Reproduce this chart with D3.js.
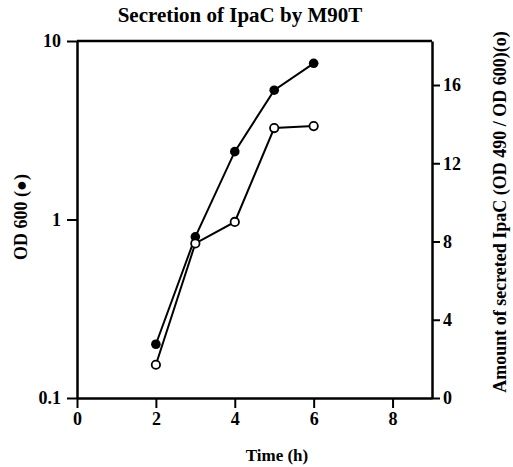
<!DOCTYPE html>
<html>
<head>
<meta charset="utf-8">
<script src="https://cdn.jsdelivr.net/npm/d3@7"></script>
<style>
  body { margin: 0; background: #fff; }
  text { font-family: "Liberation Serif", "Times New Roman", serif; font-weight: bold; }
</style>
</head>
<body>
<div id="chart"></div>
<script>
// data
var hours = [2, 3, 4, 5, 6];
var od600 = [0.2, 0.8, 2.4, 5.3, 7.5];          // filled circles, left log axis
var secreted = [1.7, 7.9, 9.0, 13.8, 13.9];     // open circles, right linear axis
var xTicks = [0, 2, 4, 6, 8];
var leftTicks = [0.1, 1, 10];
var rightTicks = [0, 4, 8, 12, 16];

var svgWidth = 513, svgHeight = 467;
var margin = {top: 41, right: 81, bottom: 69, left: 77},
  width = svgWidth - margin.left - margin.right,
  height = svgHeight - margin.top - margin.bottom;

var svg = d3.select("#chart")
  .append("svg")
    .attr("width", svgWidth)
    .attr("height", svgHeight)
  .append("g")
    .attr("transform", `translate(${margin.left},${margin.top})`);

var x = d3.scaleLinear().domain([0, 9]).range([0, width]);
var yL = d3.scaleLog().domain([0.1, 10]).range([height, 0]);
var yR = d3.scaleLinear().domain([0, 18.25]).range([height, 0]);

// axes
var gx = svg.append("g")
  .attr("transform", `translate(0, ${height})`)
  .call(d3.axisBottom(x).tickValues(xTicks).tickSize(10).tickPadding(4).tickSizeOuter(0));
var gl = svg.append("g")
  .call(d3.axisLeft(yL).tickValues(leftTicks).tickFormat(d3.format("")).tickSize(10).tickPadding(6).tickSizeOuter(0));
var gr = svg.append("g")
  .attr("transform", `translate(${width}, 0)`)
  .call(d3.axisRight(yR).tickValues(rightTicks).tickSize(8).tickPadding(3).tickSizeOuter(0));

[gx, gl, gr].forEach(g => {
  g.select(".domain").attr("stroke-width", 2.5);
  g.selectAll(".tick line").attr("stroke-width", 2);
  g.selectAll(".tick text").style("font-size", "18px").attr("fill", "#000");
});

// top border
svg.append("line")
  .attr("x1", x(0)).attr("x2", x(9))
  .attr("y1", 0).attr("y2", 0)
  .attr("stroke", "#000").attr("stroke-width", 2.5);

var odData = hours.map((h, i) => ({t: h, v: od600[i]}));
var secData = hours.map((h, i) => ({t: h, v: secreted[i]}));

svg.append("path")
  .datum(odData)
  .attr("fill", "none").attr("stroke", "#000").attr("stroke-width", 2)
  .attr("d", d3.line().x(d => x(d.t)).y(d => yL(d.v)));
svg.append("path")
  .datum(secData)
  .attr("fill", "none").attr("stroke", "#000").attr("stroke-width", 2)
  .attr("d", d3.line().x(d => x(d.t)).y(d => yR(d.v)));

svg.selectAll(".od").data(odData).enter().append("circle")
  .attr("cx", d => x(d.t)).attr("cy", d => yL(d.v)).attr("r", 4.8)
  .attr("fill", "#000");
svg.selectAll(".sec").data(secData).enter().append("circle")
  .attr("cx", d => x(d.t)).attr("cy", d => yR(d.v)).attr("r", 4.2)
  .attr("fill", "#fff").attr("stroke", "#000").attr("stroke-width", 1.8);

// title and labels
var root = d3.select("svg");
root.append("text")
  .attr("x", 240).attr("y", 22)
  .attr("text-anchor", "middle")
  .style("font-size", "21px")
  .text("Secretion of IpaC by M90T");
root.append("text")
  .attr("x", 277).attr("y", 461)
  .attr("text-anchor", "middle")
  .style("font-size", "17px")
  .text("Time (h)");
root.append("text")
  .attr("transform", "translate(27, 217) rotate(-90)")
  .attr("text-anchor", "middle")
  .style("font-size", "18px")
  .text("OD 600 (\u25CF)");
root.append("text")
  .attr("transform", "translate(506, 212) rotate(-90)")
  .attr("text-anchor", "middle")
  .style("font-size", "18px")
  .text("Amount of secreted IpaC (OD 490 / OD 600)(o)");
</script>
</body>
</html>
